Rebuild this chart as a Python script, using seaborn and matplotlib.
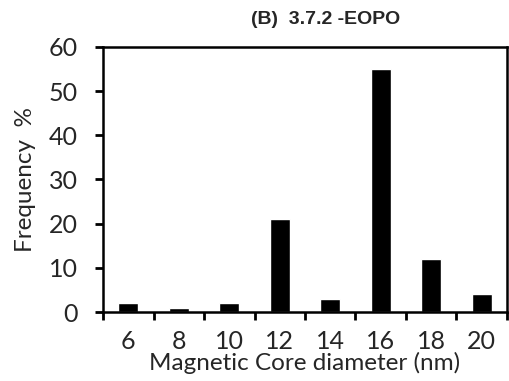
import matplotlib
matplotlib.use("Agg")
import matplotlib.pyplot as plt
import seaborn as sns
import numpy as np
import pandas as pd

categories = ["6", "8", "10", "12", "14", "16", "18", "20"]
frequency = [2, 1, 2, 21, 3, 55, 12, 4]
y_ticks = [0, 10, 20, 30, 40, 50, 60]

sns.set_theme(style="white")
plt.rcParams['font.family'] = ['Lato', 'DejaVu Sans']

df = pd.DataFrame({"cat": categories, "freq": frequency})

fig = plt.figure(figsize=(5.09, 3.81), dpi=100)
ax = fig.add_axes([0.2024, 0.181, 0.7936, 0.696])
sns.barplot(data=df, x="cat", y="freq", order=categories, color="black",
            width=0.4, ax=ax, saturation=1)

ax.set_xlim(-0.5, len(categories) - 0.5)
ax.set_ylim(0, 60)
ax.set_yticks(y_ticks)
ax.set_yticklabels([str(t) for t in y_ticks], fontsize=18)

ax.set_xticks(range(len(categories)))
ax.set_xticklabels(categories, fontsize=18)
ax.tick_params(axis='x', which='major', length=0, pad=13)
ax.set_xticks(np.arange(-0.5, len(categories), 1.0), minor=True)
ax.tick_params(axis='x', which='minor', length=6, width=2, direction='out', color='black', bottom=True)
ax.tick_params(axis='y', which='major', length=6, width=2, direction='out', color='black', left=True, pad=12)

for s in ax.spines.values():
    s.set_linewidth(1.8)
    s.set_color('black')
    s.set_visible(True)

ax.set_xlabel("Magnetic Core diameter (nm)", fontsize=17.5)
ax.xaxis.set_label_coords(0.5, -0.15)
ax.set_ylabel("Frequency  %", fontsize=17.5)
ax.yaxis.set_label_coords(-0.165, 0.5)
fig.text(326 / 509, 1 - 19 / 381, "(B)  3.7.2 -EOPO", fontsize=14, fontweight='bold',
         family=['Liberation Sans', 'DejaVu Sans'], ha='center', va='center')

fig.savefig("out.png", dpi=100)
